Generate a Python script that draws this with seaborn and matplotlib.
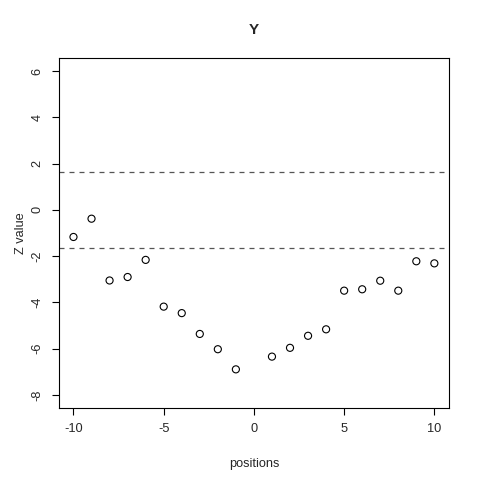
import numpy as np
import pandas as pd
import seaborn as sns
import matplotlib.pyplot as plt

# data
positions = [-10, -9, -8, -7, -6, -5, -4, -3, -2, -1, 1, 2, 3, 4, 5, 6, 7, 8, 9, 10]
z_values = [-1.17, -0.38, -3.05, -2.90, -2.16, -4.18, -4.46, -5.36, -6.02, -6.89,
            -6.34, -5.96, -5.44, -5.16, -3.49, -3.43, -3.06, -3.49, -2.22, -2.31]
thresholds = [1.645, -1.645]
x_ticks = [-10, -5, 0, 5, 10]
y_ticks = [-8, -6, -4, -2, 0, 2, 4, 6]

df = pd.DataFrame({"positions": positions, "z": z_values})

sns.set_style("white")
plt.rcParams["font.family"] = ["Liberation Sans", "DejaVu Sans"]
plt.rcParams["axes.unicode_minus"] = False

fig = plt.figure(figsize=(4.8, 4.8), dpi=100)
ax = fig.add_axes([0.123, 0.15, 0.812, 0.729])

sns.scatterplot(data=df, x="positions", y="z", ax=ax, marker="o", s=26,
                facecolors="none", edgecolor="black", linewidth=0.8)

for t in thresholds:
    ax.axhline(t, color="#555555", linestyle=(0, (4, 4)), linewidth=0.9)

ax.set_xlim(-10.8, 10.8)
ax.set_ylim(-8.56, 6.56)
ax.set_xticks(x_ticks)
ax.set_yticks(y_ticks)
ax.set_yticklabels([str(v) for v in y_ticks], rotation=90, va="center")

for sp in ax.spines.values():
    sp.set_visible(True)
    sp.set_color("black")
    sp.set_linewidth(0.8)

ax.tick_params(axis="both", direction="out", length=5, width=0.8, color="black",
               labelsize=9.2, pad=6, left=True, bottom=True)

ax.set_xlabel("positions", fontsize=9.2)
ax.set_ylabel("Z value", fontsize=9.2)
ax.xaxis.set_label_coords(0.5, -50 / 350)
ax.yaxis.set_label_coords(-32 / 390, 0.5)
ax.set_title("")
ax.text(0.5, 1 + 28 / 350, "Y", transform=ax.transAxes, fontsize=11,
        fontweight="bold", ha="center", va="center")

fig.savefig("out.png", dpi=100)
